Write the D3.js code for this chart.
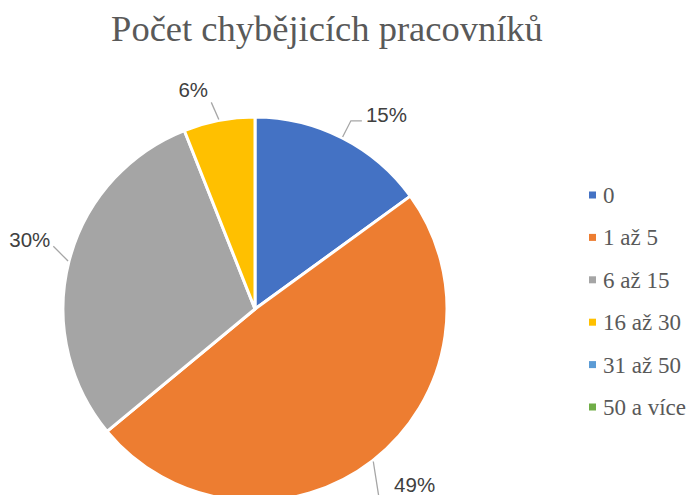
<!DOCTYPE html>
<html lang="cs">
<head>
<meta charset="UTF-8">
<title>Počet chybějicích pracovníků</title>
<script src="https://d3js.org/d3.v7.min.js"></script>
<style>
  body { margin: 0; background: #fff; }
  .title { font-family: "Liberation Serif", "Times New Roman", serif; font-size: 36.5px; fill: #595959; }
  .legend text { font-family: "Liberation Serif", "Times New Roman", serif; font-size: 23px; fill: #595959; }
  .label { font-family: "Liberation Sans", Arial, sans-serif; font-size: 20.5px; fill: #404040; }
  .leader { fill: none; stroke: #a6a6a6; stroke-width: 1.3px; }
</style>
</head>
<body>
<div id="chart"></div>
<script>
  const categories = ["0", "1 až 5", "6 až 15", "16 až 30", "31 až 50", "50 a více"];
  const values = [15, 49, 30, 6, 0, 0];
  const colors = ["#4472C4", "#ED7D31", "#A5A5A5", "#FFC000", "#5B9BD5", "#70AD47"];

  const width = 689, height = 495;
  const cx = 255, cy = 309, r = 192;

  const svg = d3.select("#chart").append("svg")
      .attr("width", width)
      .attr("height", height);

  svg.append("text")
      .attr("class", "title")
      .attr("text-anchor", "middle")
      .attr("x", 327).attr("y", 41)
      .text("Počet chybějicích pracovníků");

  const data = categories.map((c, i) => ({ name: c, value: values[i], color: colors[i] }));

  const pie = d3.pie().sort(null).value(d => d.value);
  const arc = d3.arc().innerRadius(0).outerRadius(r);
  const arcs = pie(data);

  const g = svg.append("g").attr("transform", `translate(${cx},${cy})`);

  g.selectAll("path.slice")
    .data(arcs.filter(d => d.data.value > 0))
    .enter().append("path")
      .attr("class", "slice")
      .attr("d", arc)
      .attr("fill", d => d.data.color)
      .attr("stroke", "#fff")
      .attr("stroke-width", 3)
      .attr("stroke-linejoin", "round");

  // popisky dat s vodicími čarami
  const pt = (a, rad) => [rad * Math.sin(a), -rad * Math.cos(a)];
  arcs.filter(d => d.data.value > 0).forEach(d => {
    const mid = (d.startAngle + d.endAngle) / 2;
    const p0 = pt(mid, r + 1);
    const right = Math.sin(mid) > 0.3;
    const left = Math.sin(mid) < -0.3;
    let p1 = pt(mid, r * 1.1);
    const label = Math.round(d.data.value) + "%";
    if (right) {
      if (-Math.cos(mid) > 0) p1 = pt(mid + 0.08, r * 1.18);
      const p2 = [p1[0] + 11, p1[1]];
      g.append("path").attr("class", "leader").attr("d", d3.line()([p0, p1, p2]));
      g.append("text").attr("class", "label")
        .attr("x", p2[0] + 4).attr("y", Math.min(p2[1] + 1, height - cy - 3))
        .text(label);
    } else if (left) {
      p1 = pt(mid + 0.05, r * 1.1);
      g.append("path").attr("class", "leader").attr("d", d3.line()([p0, p1]));
      g.append("text").attr("class", "label")
        .attr("text-anchor", "end")
        .attr("x", p1[0] - 3).attr("y", p1[1] + 1)
        .text(label);
    } else {
      p1 = pt(mid - 0.02, r * 1.1);
      g.append("path").attr("class", "leader").attr("d", d3.line()([p0, p1]));
      g.append("text").attr("class", "label")
        .attr("text-anchor", "middle")
        .attr("x", p1[0] - 18).attr("y", p1[1] - 5)
        .text(label);
    }
  });

  // legenda
  const legendY = d3.scalePoint().domain(categories).range([195, 407]);
  const legend = svg.append("g").attr("class", "legend");
  const item = legend.selectAll("g")
    .data(data)
    .enter().append("g")
      .attr("transform", d => `translate(589,${legendY(d.name)})`);
  item.append("rect")
      .attr("x", 0).attr("y", -3.5)
      .attr("width", 7).attr("height", 7)
      .attr("fill", d => d.color);
  item.append("text")
      .attr("x", 14).attr("y", 8)
      .text(d => d.name);
</script>
</body>
</html>
